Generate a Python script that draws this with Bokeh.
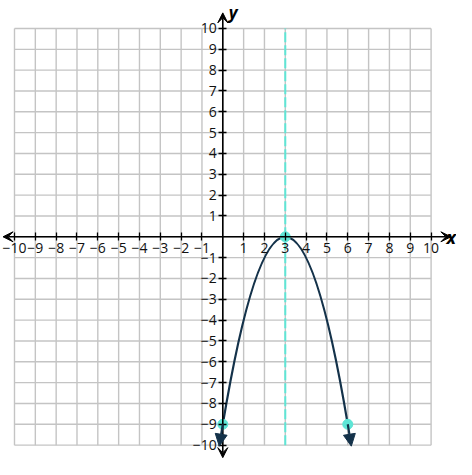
from bokeh.plotting import figure
from bokeh.models import LinearAxis, FixedTicker, Range1d, Arrow, VeeHead, NormalHead
from bokeh.core.properties import value
from bokeh.embed import file_html
from bokeh.resources import INLINE

# ---- data ----
grid_ticks = list(range(-10, 11))
axis_ticks = [t for t in grid_ticks if t != 0]
tick_labels = {t: (str(t).replace("-", "\u2212")) for t in axis_ticks}

# parabola y = -(x-3)^2 : endpoints and Bezier control point
curve_start = (0, -9)
curve_end = (6, -9)
curve_ctrl = (3, 9)
point_x = [0, 3, 6]
point_y = [-9, 0, -9]
axis_of_symmetry = 3
left_tip = (-0.17, -10.05)
right_tip = (6.17, -10.05)

NAVY = "#14324a"
CYAN = "#5ee6d6"
GRID = "#c4c4c4"

p = figure(width=456, height=459, output_backend="svg", toolbar_location=None,
           x_range=Range1d(-10.672, 11.22), y_range=Range1d(-10.69, 11.344),
           min_border=0, x_axis_type=None, y_axis_type=None)
p.outline_line_color = None
p.xgrid.visible = False
p.ygrid.visible = False
p.background_fill_color = "white"
p.border_fill_color = "white"

# grid
p.segment(x0=grid_ticks, y0=[-10] * len(grid_ticks), x1=grid_ticks, y1=[10] * len(grid_ticks),
          line_color=GRID, line_width=1.4)
p.segment(x0=[-10] * len(grid_ticks), y0=grid_ticks, x1=[10] * len(grid_ticks), y1=grid_ticks,
          line_color=GRID, line_width=1.4)

# axes through the origin
font = "Open Sans"
xaxis = LinearAxis(fixed_location=0, ticker=FixedTicker(ticks=axis_ticks),
                   major_label_overrides=tick_labels)
yaxis = LinearAxis(fixed_location=0, ticker=FixedTicker(ticks=axis_ticks),
                   major_label_overrides=tick_labels)
for ax in (xaxis, yaxis):
    ax.axis_line_color = None
    ax.major_tick_in = 4
    ax.major_tick_out = 4
    ax.major_tick_line_color = "black"
    ax.major_tick_line_width = 1.3
    ax.minor_tick_line_color = None
    ax.major_label_text_font = font
    ax.major_label_text_font_size = "14px"
    ax.major_label_text_color = "#111111"
    ax.major_label_standoff = 2
p.add_layout(xaxis, "below")
p.add_layout(yaxis, "left")

p.add_layout(Arrow(x_start=-10.55, y_start=0, x_end=10.95, y_end=0,
                   line_color="black", line_width=1.6,
                   start=VeeHead(size=10, fill_color="black", line_color="black"),
                   end=VeeHead(size=10, fill_color="black", line_color="black")))
p.add_layout(Arrow(x_start=0, y_start=-10.6, x_end=0, y_end=10.75,
                   line_color="black", line_width=1.6,
                   start=VeeHead(size=10, fill_color="black", line_color="black"),
                   end=VeeHead(size=10, fill_color="black", line_color="black")))

p.text(x=[11.2], y=[0], text=["x"], text_font=value("Open Sans"), text_font_style="bold italic",
       text_font_size="18px", text_align="right", text_baseline="middle", text_color="black")
p.text(x=[0.5], y=[11.3], text=["y"], text_font=value("Open Sans"), text_font_style="bold italic",
       text_font_size="17px", text_align="center", text_baseline="top", text_color="black")

# axis of symmetry
p.segment(x0=[axis_of_symmetry], y0=[-10], x1=[axis_of_symmetry], y1=[10],
          line_color=CYAN, line_width=2, line_dash="10 3")

# parabola
p.quadratic(x0=[curve_start[0]], y0=[curve_start[1]], x1=[curve_end[0]], y1=[curve_end[1]],
            cx=[curve_ctrl[0]], cy=[curve_ctrl[1]], line_color=NAVY, line_width=2.2)
for (sx, sy), (tx, ty) in ((curve_start, left_tip), (curve_end, right_tip)):
    p.add_layout(Arrow(x_start=sx, y_start=sy, x_end=tx, y_end=ty,
                       line_color=NAVY, line_width=2.2,
                       end=NormalHead(size=12, fill_color=NAVY, line_color=NAVY)))

# points
p.scatter(point_x, point_y, size=10, fill_color=CYAN, line_color=CYAN)

open("out.html", "w").write(file_html(p, INLINE))
